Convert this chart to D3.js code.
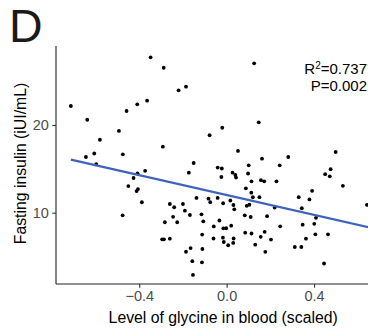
<!DOCTYPE html>
<html>
<head>
<meta charset="utf-8">
<script src="https://cdn.jsdelivr.net/npm/d3@7"></script>
<style>
  html, body { margin: 0; padding: 0; background: #fff; }
  svg { display: block; font-family: "Liberation Sans", Arial, Helvetica, sans-serif; }
</style>
</head>
<body>
<div id="chart"></div>
<script>
// Glycine level (scaled) vs fasting insulin
const glycine = [
  -0.713, -0.638, -0.458, -0.493, -0.580, -0.644, -0.606, -0.475, -0.597, -0.409,
  -0.348, -0.288, -0.220, -0.186, -0.364, -0.078, -0.292, -0.151, 0.126, -0.020,
  0.147, 0.052, 0.162, 0.282, 0.101, 0.243, 0.499,
  -0.426, -0.450, -0.412, -0.406, -0.476, -0.408, -0.373, -0.388, -0.173, -0.260,
  -0.240, -0.200, -0.191, -0.168, -0.245, -0.283, -0.226, -0.138, -0.083, -0.075,
  -0.115, -0.107, -0.112, -0.295, -0.287, -0.260, -0.165, -0.186, -0.111, -0.157,
  -0.113, -0.154, -0.041, -0.022, -0.024, 0.027, 0.040, 0.043, 0.098, 0.114,
  0.157, 0.172, 0.228, 0.088, 0.113, 0.120, 0.150, -0.041, 0.017, -0.016,
  0.031, 0.035, 0.092, 0.104, 0.220, 0.083, 0.110, 0.185, -0.033, -0.059,
  -0.015, -0.002, 0.021, 0.245, -0.060, -0.017, 0.032, 0.085, 0.114, 0.174,
  0.156, 0.203, -0.013, 0.007, 0.030, 0.131, 0.177, 0.451, 0.476, 0.472,
  0.532, 0.391, 0.330, 0.379, 0.642, 0.344, 0.409, 0.401, 0.348, 0.406,
  0.464, 0.363, 0.312, 0.342, 0.446
];
const insulin = [
  22.17, 20.60, 21.60, 19.32, 18.32, 16.35, 16.75, 16.66, 15.55, 22.36,
  27.72, 26.53, 23.96, 24.37, 22.77, 18.83, 17.53, 15.67, 27.04, 19.69,
  20.31, 17.04, 16.16, 16.35, 15.40, 15.40, 16.92,
  13.96, 13.04, 12.47, 12.70, 9.70, 14.49, 14.78, 11.19, 14.56, 10.99,
  10.62, 10.99, 10.23, 9.74, 9.53, 8.91, 8.91, 11.68, 11.60, 11.20,
  9.82, 9.02, 7.51, 6.97, 6.97, 7.04, 5.97, 5.55, 5.86, 4.47,
  4.34, 2.90, 15.15, 15.04, 14.07, 14.56, 14.30, 14.01, 14.47, 13.58,
  13.71, 13.58, 13.58, 12.78, 12.28, 11.76, 11.77, 11.68, 11.39, 11.08,
  10.88, 10.39, 10.79, 10.91, 10.59, 9.70, 9.51, 9.60, 9.11, 8.43,
  8.22, 8.23, 8.52, 8.45, 7.06, 7.15, 7.06, 7.72, 7.63, 7.82,
  7.25, 6.94, 6.66, 6.29, 6.55, 6.35, 5.54, 14.39, 14.96, 14.15,
  13.07, 12.50, 11.77, 11.51, 10.90, 10.51, 9.42, 8.73, 8.63, 7.54,
  7.54, 7.04, 6.09, 6.09, 4.21
];

// linear fit shown in the figure
const fitIntercept = 12.02;
const fitSlope = -5.65;
const fitRange = [-0.713, 0.70];

const xTicks = [-0.4, 0.0, 0.4];
const yTicks = [10, 20];
const statLines = [["R", "2", "=0.737"], ["P", "", "=0.002"]];

const width = 368, height = 332;
const panel = { left: 56, top: 46, bottom: 284 };

const svg = d3.select('#chart').append('svg')
  .attr('width', width)
  .attr('height', height);

svg.append('rect').attr('width', width).attr('height', height).attr('fill', '#fff');

const x = d3.scaleLinear().domain([-0.781, 0.75]).range([panel.left, 390.5]);
const y = d3.scaleLinear().domain([1.87, 29.01]).range([panel.bottom, panel.top]);

// panel letter
svg.append('text')
  .attr('x', 9).attr('y', 41.7)
  .attr('font-size', 46.5)
  .attr('fill', '#1a1a1a')
  .text('D');

// axes
const fmt = d => d3.format('.1f')(d).replace('-', '\u2212');

const xAxis = svg.append('g')
  .attr('transform', `translate(0,${panel.bottom})`)
  .call(d3.axisBottom(x).tickValues(xTicks).tickFormat(fmt).tickSize(3.7).tickPadding(3));

const yAxis = svg.append('g')
  .attr('transform', `translate(${panel.left},0)`)
  .call(d3.axisLeft(y).tickValues(yTicks).tickSize(3.7).tickPadding(3.5));

[xAxis, yAxis].forEach(g => {
  g.select('.domain').attr('stroke', '#222').attr('stroke-width', 1.1);
  g.selectAll('.tick line').attr('stroke', '#333').attr('stroke-width', 1.1);
  g.selectAll('.tick text')
    .attr('fill', '#4d4d4d')
    .attr('font-size', 14.5)
    .attr('font-family', '"Liberation Sans", Arial, Helvetica, sans-serif');
});
yAxis.select('.domain').attr('d', `M0,${panel.top}V${panel.bottom}`);
xAxis.select('.domain').attr('d', `M${panel.left},0H${width + 30}`);

// points
svg.append('g')
  .selectAll('circle')
  .data(glycine.map((g, i) => [g, insulin[i]]))
  .join('circle')
  .attr('cx', d => x(d[0]))
  .attr('cy', d => y(d[1]))
  .attr('r', 1.9)
  .attr('fill', '#000');

// regression line
svg.append('line')
  .attr('x1', x(fitRange[0]))
  .attr('y1', y(fitIntercept + fitSlope * fitRange[0]))
  .attr('x2', x(fitRange[1]))
  .attr('y2', y(fitIntercept + fitSlope * fitRange[1]))
  .attr('stroke', '#3f62bc')
  .attr('stroke-width', 2.2);

// stats annotation, kept just inside the right edge
statLines.forEach(([a, sup, b], i) => {
  const t = svg.append('text')
    .attr('x', 367)
    .attr('y', 74 + i * 16.5)
    .attr('text-anchor', 'end')
    .attr('font-size', 15)
    .attr('fill', '#000');
  t.append('tspan').text(a);
  if (sup) t.append('tspan').attr('font-size', 10).attr('dy', -5.5).text(sup);
  t.append('tspan').attr('dy', sup ? 5.5 : 0).text(b);
});

// axis titles
svg.append('text')
  .attr('x', 223.2).attr('y', 322.5)
  .attr('text-anchor', 'middle')
  .attr('font-size', 15.8)
  .attr('fill', '#000')
  .text('Level of glycine in blood (scaled)');

svg.append('text')
  .attr('transform', `translate(25.5,${(panel.top + panel.bottom) / 2 - 1.5}) rotate(-90)`)
  .attr('text-anchor', 'middle')
  .attr('font-size', 15.8)
  .attr('fill', '#000')
  .text('Fasting insulin (iUI/mL)');
</script>
</body>
</html>
